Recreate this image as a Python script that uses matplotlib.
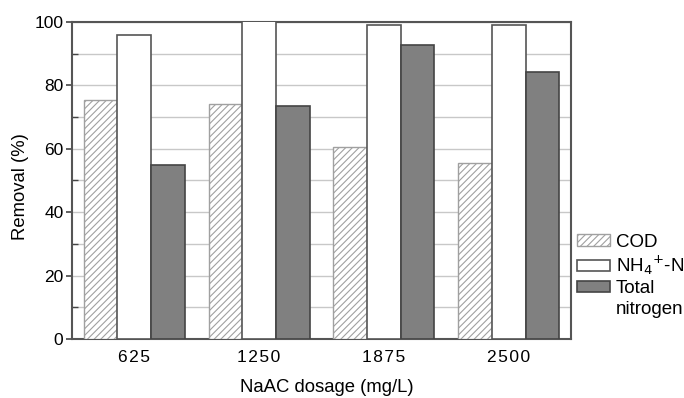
import numpy as np
import matplotlib.pyplot as plt
from matplotlib.patches import Patch
from matplotlib.ticker import MultipleLocator

plt.rcParams['font.family'] = ['Liberation Sans', 'DejaVu Sans']
plt.rcParams['hatch.color'] = '#b0b0b0'
plt.rcParams['hatch.linewidth'] = 0.8

dosages = ['625', '1250', '1875', '2500']
cod = [75.4, 74.0, 60.7, 55.4]
nh4 = [95.8, 100.5, 98.9, 98.9]
total_n = [54.9, 73.5, 92.6, 84.3]

fig = plt.figure(figsize=(6.84, 3.98), dpi=100)
ax = fig.add_axes([0.105, 0.148, 0.73, 0.797])

x = np.arange(len(dosages))
w = 0.27
b1 = ax.bar(x - w, cod, w, color='white', edgecolor='#a0a0a0', hatch='/////',
            linewidth=1.0, label='COD', zorder=3)
b2 = ax.bar(x, nh4, w, color='white', edgecolor='#555555',
            linewidth=1.2, label='NH$_4$$^{+}$-N', zorder=3)
b3 = ax.bar(x + w, total_n, w, color='#808080', edgecolor='#444444',
            linewidth=1.2, label='Total', zorder=3)
# second line of the "Total nitrogen" entry, with no handle
blank = Patch(facecolor='none', edgecolor='none', label='nitrogen')

ax.set_xlim(-0.5, 3.5)
ax.set_ylim(0, 100)
ax.yaxis.set_major_locator(MultipleLocator(20))
ax.yaxis.set_minor_locator(MultipleLocator(10))
ax.grid(axis='y', which='both', color='#c8c8c8', linewidth=1.0, zorder=0)
ax.set_xticks(x)
ax.set_xticklabels(['\u200a'.join(d) for d in dosages], fontsize=12.5)
ax.tick_params(axis='y', which='major', labelsize=12.5, direction='out', length=4,
               width=1.2, color='#444444', pad=2)
ax.tick_params(axis='y', which='minor', direction='in', length=4, width=1.0, color='#444444')
ax.tick_params(axis='x', length=0, pad=8)
for s in ax.spines.values():
    s.set_color('#555555')
    s.set_linewidth(1.5)

ax.set_xlabel('NaAC dosage (mg/L)', fontsize=13.3, labelpad=10, x=0.51)
ax.set_ylabel('Removal (%)', fontsize=13.3, labelpad=4, y=0.48)

leg = fig.legend(handles=[b1, b2, b3, blank], loc='upper left', bbox_to_anchor=(0.833, 0.432),
                 frameon=False, fontsize=13.5, handlelength=1.75, handleheight=0.55,
                 handletextpad=0.3, labelspacing=0.17, borderaxespad=0)

fig.savefig('out.png', dpi=100)
